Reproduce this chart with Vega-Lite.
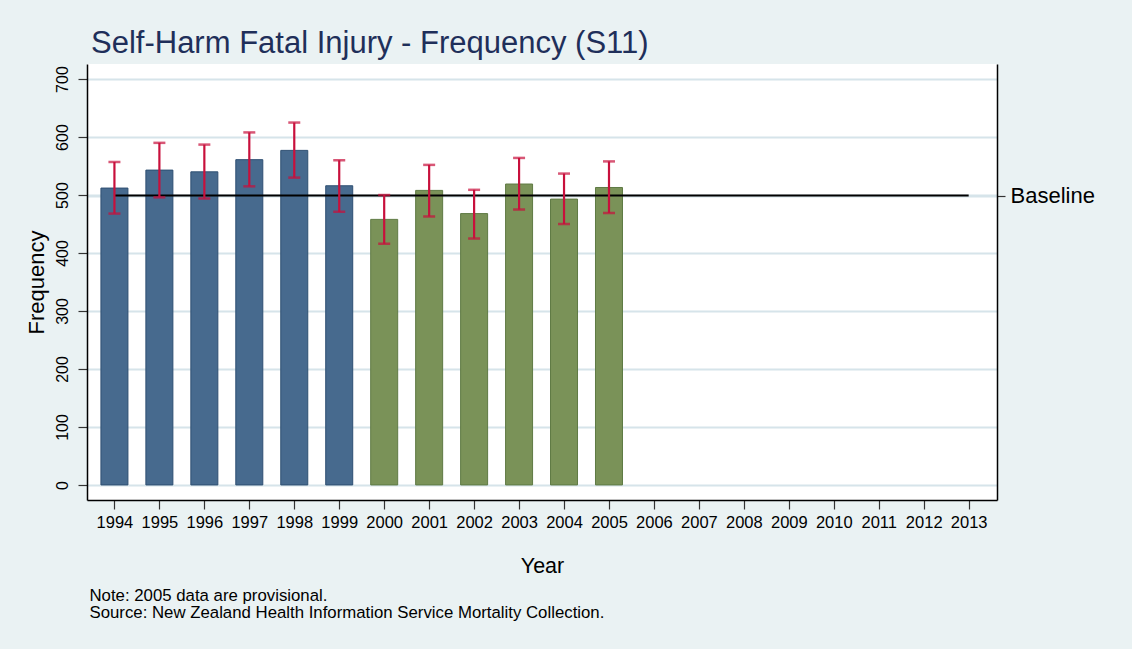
{
  "$schema": "https://vega.github.io/schema/vega-lite/v6.json",
  "width": 910,
  "height": 436,
  "autosize": "none",
  "padding": {"left": 87, "top": 64, "right": 135, "bottom": 149},
  "background": "#EAF2F3",
  "config": {
    "font": "Liberation Sans",
    "view": {"fill": "white", "stroke": null},
    "axis": {
      "labelFont": "Liberation Sans",
      "titleFont": "Liberation Sans",
      "labelColor": "black",
      "titleColor": "black",
      "titleFontWeight": "normal",
      "domainColor": "black",
      "domainWidth": 1.5,
      "tickColor": "#333333",
      "tickWidth": 1.2,
      "tickSize": 9,
      "gridColor": "#D6E4EA",
      "gridWidth": 2
    }
  },
  "title": {
    "text": "Self-Harm Fatal Injury - Frequency (S11)",
    "anchor": "start",
    "frame": "group",
    "font": "Liberation Sans",
    "fontSize": 31,
    "fontWeight": "normal",
    "color": "#1F2F5A",
    "baseline": "alphabetic",
    "offset": -20,
    "dx": 4
  },
  "datasets": {
    "bars": [
      {"year": 1994, "freq": 512, "lo": 468, "hi": 557, "period": "A"},
      {"year": 1995, "freq": 543, "lo": 496, "hi": 590, "period": "A"},
      {"year": 1996, "freq": 540, "lo": 494, "hi": 587, "period": "A"},
      {"year": 1997, "freq": 561, "lo": 515, "hi": 608, "period": "A"},
      {"year": 1998, "freq": 577, "lo": 530, "hi": 625, "period": "A"},
      {"year": 1999, "freq": 516, "lo": 471, "hi": 560, "period": "A"},
      {"year": 2000, "freq": 458, "lo": 416, "hi": 500, "period": "B"},
      {"year": 2001, "freq": 508, "lo": 463, "hi": 552, "period": "B"},
      {"year": 2002, "freq": 468, "lo": 425, "hi": 509, "period": "B"},
      {"year": 2003, "freq": 519, "lo": 475, "hi": 564, "period": "B"},
      {"year": 2004, "freq": 493, "lo": 450, "hi": 537, "period": "B"},
      {"year": 2005, "freq": 513, "lo": 469, "hi": 558, "period": "B"}
    ],
    "base": [
      {"start": 1994, "end": 2013, "baseline": 499}
    ]
  },
  "layer": [
    {
      "data": {"name": "bars"},
      "mark": {"type": "bar", "width": 27, "strokeWidth": 1},
      "encoding": {
        "x": {
          "field": "year",
          "type": "quantitative",
          "scale": {"domain": [1993.39, 2013.63], "nice": false, "zero": false, "padding": 0},
          "axis": {
            "orient": "bottom",
            "values": [1994,1995,1996,1997,1998,1999,2000,2001,2002,2003,2004,2005,2006,2007,2008,2009,2010,2011,2012,2013],
            "format": "d",
            "labelFontSize": 16.5,
            "labelPadding": 5,
            "grid": false,
            "title": "Year",
            "titleFontSize": 21.5,
            "titlePadding": 25
          }
        },
        "y": {
          "field": "freq",
          "type": "quantitative",
          "scale": {"domain": [-26, 726], "nice": false, "zero": false, "padding": 0},
          "axis": {
            "orient": "left",
            "values": [0, 100, 200, 300, 400, 500, 600, 700],
            "labelAngle": 270,
            "labelAlign": "center",
            "labelBaseline": "bottom",
            "labelFontSize": 16,
            "labelPadding": 8,
            "grid": true,
            "title": "Frequency",
            "titleFontSize": 22,
            "titlePadding": 6
          }
        },
        "y2": {"datum": 0},
        "color": {
          "field": "period",
          "type": "nominal",
          "scale": {"domain": ["A", "B"], "range": ["#476A8E", "#7A9258"]},
          "legend": null
        },
        "stroke": {
          "field": "period",
          "type": "nominal",
          "scale": {"domain": ["A", "B"], "range": ["#2E4F72", "#5F7A44"]},
          "legend": null
        }
      }
    },
    {
      "data": {"name": "base"},
      "mark": {"type": "rule", "color": "black", "strokeWidth": 2},
      "encoding": {
        "x": {
          "field": "start",
          "type": "quantitative",
          "scale": {"domain": [1993.39, 2013.63], "nice": false, "zero": false, "padding": 0},
          "axis": {
            "orient": "bottom",
            "labels": false,
            "ticks": false,
            "domain": false,
            "grid": false,
            "title": ["Note: 2005 data are provisional.", "Source: New Zealand Health Information Service Mortality Collection."],
            "titleFontSize": 16.8,
            "titleLineHeight": 17,
            "titleAnchor": "start",
            "titleAlign": "left",
            "titleBaseline": "top",
            "titlePadding": 87,
            "titleX": 2
          }
        },
        "x2": {"field": "end"},
        "y": {
          "field": "baseline",
          "type": "quantitative",
          "scale": {"domain": [-26, 726], "nice": false, "zero": false, "padding": 0},
          "axis": {
            "orient": "right",
            "values": [499],
            "labelExpr": "'Baseline'",
            "labelFontSize": 22,
            "labelPadding": 5,
            "tickSize": 8,
            "grid": true,
            "title": null
          }
        }
      }
    },
    {
      "data": {"name": "bars"},
      "mark": {
        "type": "errorbar",
        "color": "#C8103C",
        "rule": {"strokeWidth": 2.2},
        "ticks": {"size": 12, "thickness": 2.5, "color": "#C8103C"}
      },
      "encoding": {
        "x": {
          "field": "year",
          "type": "quantitative",
          "scale": {"domain": [1993.39, 2013.63], "nice": false, "zero": false, "padding": 0},
          "axis": null
        },
        "y": {
          "field": "lo",
          "type": "quantitative",
          "scale": {"domain": [-26, 726], "nice": false, "zero": false, "padding": 0},
          "axis": null
        },
        "y2": {"field": "hi"}
      }
    }
  ],
  "resolve": {"axis": {"x": "independent", "y": "independent"}}
}
